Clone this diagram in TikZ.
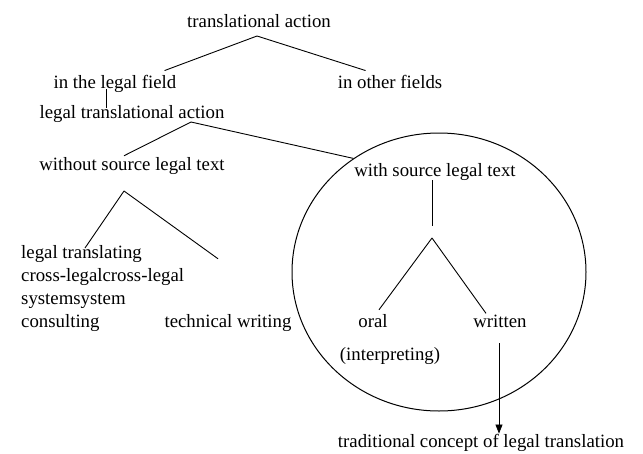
\documentclass[tikz,border=0pt]{standalone}
\usepackage{fontspec}
\setmainfont{Liberation Serif}
\usetikzlibrary{arrows.meta,positioning,shapes.geometric}

\begin{document}
\begin{tikzpicture}[
    x=1pt,y=-1pt,
    lbl/.style={inner sep=0pt,anchor=base,font=\fontsize{18.8}{23}\selectfont},
    branch/.style={line width=0.9pt,draw=black},
    arr/.style={-{Triangle[length=9pt,width=7pt]},line width=0.8pt,draw=black}
  ]
    \useasboundingbox (0,0) rectangle (643,453);
    % labels
    \node[lbl] (action) at (259,27) {translational action};
    \node[lbl] (legal) at (115,88) {in the legal field};
    \node[lbl] (other) at (390,88) {in other fields};
    \node[lbl] (legalact) at (132,118) {legal translational action};
    \node[lbl] (nosource) at (132,170) {without source legal text};
    \node[lbl] (source) at (435,176) {with source legal text};
    \node[lbl,anchor=north west,align=left] (consult) at (21,245)
      {legal translating\\cross-legalcross-legal\\systemsystem\\consulting};
    \node[lbl] (techwrite) at (228,327) {technical writing};
    \node[lbl] (oral) at (373,327) {oral};
    \node[lbl] (written) at (500,327) {written};
    \node[lbl] (interp) at (390,360) {(interpreting)};
    \node[lbl] (tradition) at (481,447) {traditional concept of legal translation};
    \node[draw,ellipse,line width=1pt,inner sep=0pt,
      minimum width=294pt,minimum height=278pt] (circ) at (439,272) {};
    % forks
    \coordinate (actfork) at (257,36);
    \coordinate (legalfork) at (191,122);
    \coordinate (nosrcfork) at (124,191);
    \coordinate (srcstem) at (432,226);
    \coordinate (srcfork) at (432,238);
    % branches
    \draw[branch] (actfork)--([xshift=-12pt,yshift=4pt]legal.north east);
    \draw[branch] (actfork)--([xshift=28pt,yshift=4pt]other.north west);
    \draw[branch] ([xshift=-9pt,yshift=3pt]legal.south)--([xshift=-9pt,yshift=-3pt]legal.south |- legalact.north);
    \draw[branch] (legalfork)--([xshift=-8pt,yshift=1pt]nosource.north);
    \draw[branch] (legalfork)--(circ.127);
    \draw[branch] (nosrcfork)--([xshift=64pt,yshift=-3pt]consult.north west);
    \draw[branch] (nosrcfork)--([xshift=-10pt,yshift=55pt]techwrite.north);
    \draw[branch] ([xshift=-3pt]source.south)--(srcstem);
    \draw[branch] (srcfork)--([xshift=6pt,yshift=4pt]oral.north);
    \draw[branch] (srcfork)--([xshift=-14pt,yshift=1pt]written.north);
    \draw[arr] ([xshift=-1pt,yshift=-16pt]written.south)--([xshift=-1pt]written.south |- tradition.north);
\end{tikzpicture}
\end{document}
